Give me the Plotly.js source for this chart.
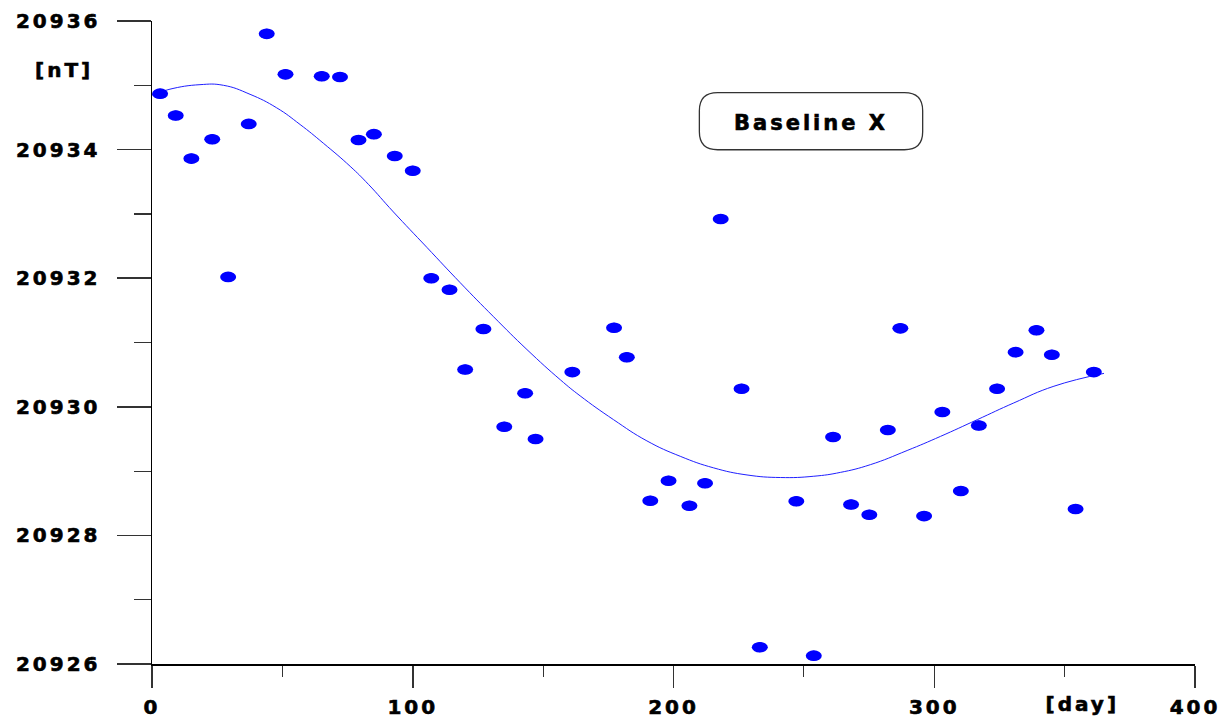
<!DOCTYPE html>
<html>
<head>
<meta charset="utf-8">
<script src="https://cdn.plot.ly/plotly-3.0.1.min.js"></script>
<style>
  html, body { margin: 0; padding: 0; background: #fff; }
  #chart { width: 1223px; height: 720px; }
  .main-svg text { letter-spacing: 3px !important; stroke: #000; stroke-width: 0.6px; }
</style>
</head>
<body>
<div id="chart"></div>
<script>
// Observed baseline values
const days = [3.1, 9.1, 15.1, 23.1, 29.2, 37.1, 44.0, 51.2, 65.1, 72.1, 79.2, 85.1, 93.1, 100.0, 107.1, 114.1, 120.1, 127.1, 135.1, 143.1, 147.1, 161.2, 177.2, 182.1, 191.1, 198.1, 206.1, 212.1, 218.1, 226.1, 233.1, 247.1, 253.8, 261.2, 268.1, 275.1, 282.2, 287.0, 296.1, 303.1, 310.2, 317.1, 324.1, 331.2, 339.2, 345.1, 354.2, 361.2];
const baselineX = [20934.87, 20934.53, 20933.86, 20934.16, 20932.02, 20934.40, 20935.80, 20935.17, 20935.14, 20935.13, 20934.15, 20934.24, 20933.90, 20933.67, 20932.00, 20931.82, 20930.58, 20931.21, 20929.69, 20930.21, 20929.50, 20930.54, 20931.23, 20930.77, 20928.54, 20928.85, 20928.46, 20928.81, 20932.92, 20930.28, 20926.26, 20928.53, 20926.13, 20929.53, 20928.48, 20928.32, 20929.64, 20931.22, 20928.30, 20929.92, 20928.69, 20929.71, 20930.28, 20930.85, 20931.19, 20930.81, 20928.41, 20930.54];

// Fitted smooth curve
const fitDays = [0, 6.9, 18.4, 27.4, 37.6, 47.8, 56.8, 65.7, 76.0, 83.0, 92.6, 105.4, 118.2, 131.0, 143.8, 156.6, 164.2, 177.0, 189.8, 202.6, 215.4, 228.2, 241.0, 253.8, 264.0, 275.5, 289.6, 302.4, 316.5, 330.5, 345.9, 365.1];
const fitValues = [20934.85, 20934.94, 20935.01, 20935.00, 20934.86, 20934.65, 20934.39, 20934.10, 20933.74, 20933.46, 20933.03, 20932.48, 20931.93, 20931.40, 20930.89, 20930.42, 20930.17, 20929.80, 20929.47, 20929.23, 20929.05, 20928.94, 20928.90, 20928.92, 20928.98, 20929.10, 20929.32, 20929.54, 20929.80, 20930.06, 20930.32, 20930.52];

// Tick labels
const xTickVals = [0, 100, 200, 300, 400];
const xTickText = ['0', '100', '200', '300', '400'];
const yTickVals = [20926, 20928, 20930, 20932, 20934, 20936];
const yTickText = ['20926', '20928', '20930', '20932', '20934', '20936'];

const FONT = 'DejaVu Sans, Arial, sans-serif';
const BLUE = '#0000ff';

const traces = [
  {
    x: fitDays, y: fitValues, type: 'scatter', mode: 'lines',
    line: { color: '#2020ff', width: 1, shape: 'spline', smoothing: 1.3 },
    hoverinfo: 'skip', showlegend: false
  },
  {
    x: days, y: baselineX, type: 'scatter', mode: 'markers',
    marker: { color: BLUE, size: 10, symbol: 'circle', line: { width: 0 } },
    showlegend: false
  }
];

// elliptical dots (wider than tall) anchored at data positions
const dotShapes = days.map((d, i) => ({
  type: 'circle', xref: 'x', yref: 'y',
  xsizemode: 'pixel', ysizemode: 'pixel',
  xanchor: d, yanchor: baselineX[i],
  x0: -8, x1: 8, y0: -5.3, y1: 5.3,
  fillcolor: BLUE, line: { width: 0 }, layer: 'above'
}));

// rounded box for label
const bx0 = 0.5248, bx1 = 0.7389, by0 = 0.7998, by1 = 0.8885;
const rx = 0.0175, ry = 0.028;
const boxPath = `M ${bx0 + rx} ${by1} L ${bx1 - rx} ${by1} Q ${bx1} ${by1} ${bx1} ${by1 - ry} ` +
  `L ${bx1} ${by0 + ry} Q ${bx1} ${by0} ${bx1 - rx} ${by0} L ${bx0 + rx} ${by0} ` +
  `Q ${bx0} ${by0} ${bx0} ${by0 + ry} L ${bx0} ${by1 - ry} Q ${bx0} ${by1} ${bx0 + rx} ${by1} Z`;

const layout = {
  width: 1223, height: 720,
  margin: { l: 152, r: 28, t: 21, b: 56 },
  paper_bgcolor: '#ffffff', plot_bgcolor: '#ffffff',
  font: { family: FONT, size: 20, color: '#000', weight: 700 },
  xaxis: {
    range: [0, 400], showgrid: false, zeroline: false,
    showline: true, linecolor: '#000', linewidth: 1.5,
    tickmode: 'array', tickvals: xTickVals, ticktext: xTickText,
    ticks: 'outside', ticklen: 22, tickwidth: 1.5, tickcolor: '#333',
    ticklabelstandoff: 2,
    tickfont: { family: FONT, size: 20, color: '#000', weight: 700 },
    minor: { dtick: 50, ticks: 'outside', ticklen: 11, tickwidth: 1.2, tickcolor: '#333', showgrid: false }
  },
  yaxis: {
    range: [20926, 20936], showgrid: false, zeroline: false,
    showline: true, linecolor: '#000', linewidth: 1.5,
    tickmode: 'array', tickvals: yTickVals, ticktext: yTickText,
    ticks: 'outside', ticklen: 34, tickwidth: 1.5, tickcolor: '#333',
    ticklabelstandoff: 12,
    tickfont: { family: FONT, size: 20, color: '#000', weight: 700 },
    minor: { dtick: 1, ticks: 'outside', ticklen: 17, tickwidth: 1.2, tickcolor: '#333', showgrid: false }
  },
  shapes: [
    { type: 'path', xref: 'paper', yref: 'paper', path: boxPath,
      line: { color: '#333', width: 1.3 }, fillcolor: 'rgba(255,255,255,0)', layer: 'above' }
  ].concat(dotShapes),
  annotations: [
    { text: 'Baseline X', xref: 'paper', yref: 'paper', x: 0.6318, y: 0.8418,
      xanchor: 'center', yanchor: 'middle', showarrow: false,
      font: { family: FONT, size: 21, color: '#000', weight: 700 } },
    { text: '[nT]', xref: 'paper', yref: 'paper', x: -0.0843, y: 0.9243,
      xanchor: 'center', yanchor: 'middle', showarrow: false,
      font: { family: FONT, size: 20, color: '#000', weight: 700 } },
    { text: '[day]', xref: 'paper', yref: 'paper', x: 0.8926, y: -0.0620,
      xanchor: 'center', yanchor: 'middle', showarrow: false,
      font: { family: FONT, size: 20, color: '#000', weight: 700 } }
  ]
};

Plotly.newPlot('chart', traces, layout, { displayModeBar: false, staticPlot: true });
</script>
</body>
</html>
